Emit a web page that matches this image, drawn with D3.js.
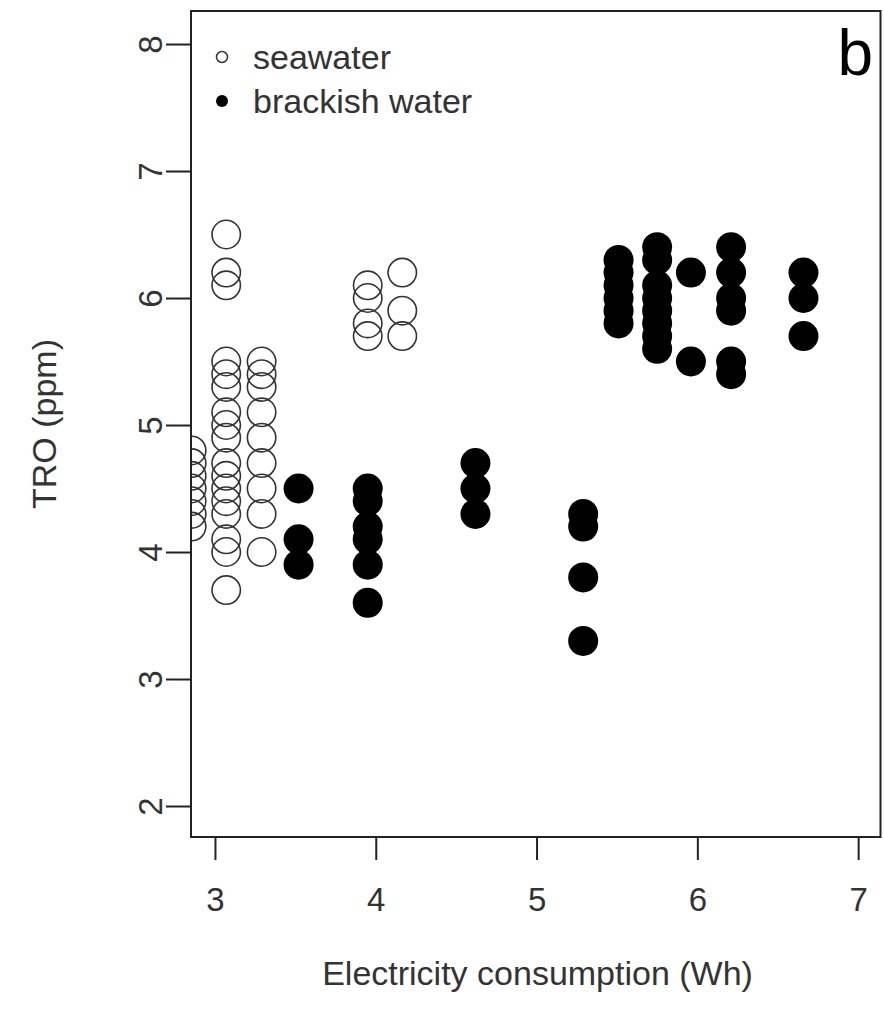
<!DOCTYPE html>
<html>
<head>
<meta charset="utf-8">
<script src="https://cdn.jsdelivr.net/npm/d3@7"></script>
<style>
  html, body { margin: 0; padding: 0; background: #fff; }
  svg { display: block; font-family: "Liberation Sans", Arial, sans-serif; }
</style>
</head>
<body>
<svg id="chart" width="884" height="1014"></svg>
<script>
// Electricity consumption (Wh) of each test column and the TRO (ppm) readings taken there
const seawaterElec = [2.855, 3.07, 3.29, 3.95, 4.165];
const seawaterTRO = [
  [4.8, 4.7, 4.6, 4.5, 4.4, 4.3, 4.2],
  [6.5, 6.2, 6.1, 5.5, 5.4, 5.3, 5.1, 5.0, 4.9, 4.7, 4.6, 4.5, 4.4, 4.3, 4.1, 4.0, 3.7],
  [5.5, 5.4, 5.3, 5.1, 4.9, 4.7, 4.5, 4.3, 4.0],
  [6.1, 6.0, 5.8, 5.7],
  [6.2, 5.9, 5.7]
];
const brackishElec = [3.52, 3.95, 4.62, 5.29, 5.51, 5.75, 5.96, 6.21, 6.66];
const brackishTRO = [
  [4.5, 4.1, 3.9],
  [4.5, 4.4, 4.2, 4.1, 3.9, 3.6],
  [4.7, 4.5, 4.3],
  [4.3, 4.2, 3.8, 3.3],
  [6.3, 6.2, 6.1, 6.0, 5.9, 5.8],
  [6.4, 6.3, 6.1, 6.0, 5.9, 5.8, 5.7, 5.6],
  [6.2, 5.5],
  [6.4, 6.2, 6.0, 5.9, 5.5, 5.4],
  [6.2, 6.0, 5.7]
];
const xTicks = [3, 4, 5, 6, 7];
const yTicks = [2, 3, 4, 5, 6, 7, 8];
const legendLabels = ["seawater", "brackish water"];
const panelLabel = "b";

const flatten = (xs, yss) => xs.flatMap((x, i) => yss[i].map(y => ({x, y})));
const seawater = flatten(seawaterElec, seawaterTRO);
const brackish = flatten(brackishElec, brackishTRO);

const svg = d3.select("#chart");
const ink = "#222";
const plot = {left: 191, right: 880.5, top: 11, bottom: 837};

// R-style 4% padding around xlim 3..7 and ylim 2..8
const x = d3.scaleLinear().domain([2.851, 7.139]).range([plot.left, plot.right]);
const y = d3.scaleLinear().domain([1.756, 8.26]).range([plot.bottom, plot.top]);

svg.append("defs").append("clipPath").attr("id", "plot-clip")
  .append("rect")
  .attr("x", plot.left).attr("y", plot.top)
  .attr("width", plot.right - plot.left).attr("height", plot.bottom - plot.top);

const r = 15;
const pts = svg.append("g").attr("clip-path", "url(#plot-clip)");

pts.selectAll("circle.sea").data(seawater).join("circle")
  .attr("class", "sea")
  .attr("cx", d => x(d.x)).attr("cy", d => y(d.y)).attr("r", r - 0.8)
  .attr("fill", "none").attr("stroke", "#333").attr("stroke-width", 1.6);

pts.selectAll("circle.brack").data(brackish).join("circle")
  .attr("class", "brack")
  .attr("cx", d => x(d.x)).attr("cy", d => y(d.y)).attr("r", r)
  .attr("fill", "#000");

// Frame
svg.append("rect")
  .attr("x", plot.left).attr("y", plot.top)
  .attr("width", plot.right - plot.left).attr("height", plot.bottom - plot.top)
  .attr("fill", "none").attr("stroke", ink).attr("stroke-width", 2);

// X axis
const xAxis = d3.axisBottom(x).tickValues(xTicks).tickSize(23).tickPadding(28)
  .tickFormat(d3.format("d"));
const gx = svg.append("g").attr("transform", `translate(0,${plot.bottom})`).call(xAxis);
gx.select(".domain").remove();
gx.selectAll(".tick line").attr("stroke", ink).attr("stroke-width", 2);
gx.selectAll(".tick text").attr("fill", "#333").attr("font-size", 33)
  .attr("font-family", "Liberation Sans, Arial, sans-serif");

// Y axis with R-style rotated tick labels
const yAxis = d3.axisLeft(y).tickValues(yTicks).tickSize(25).tickFormat(d3.format("d"));
const gy = svg.append("g").attr("transform", `translate(${plot.left},0)`).call(yAxis);
gy.select(".domain").remove();
gy.selectAll(".tick line").attr("stroke", ink).attr("stroke-width", 2);
gy.selectAll(".tick text")
  .attr("x", null).attr("dy", null)
  .attr("transform", "translate(-29,0) rotate(-90)")
  .attr("text-anchor", "middle")
  .attr("fill", "#333").attr("font-size", 33)
  .attr("font-family", "Liberation Sans, Arial, sans-serif");

// Axis titles
svg.append("text")
  .attr("x", (x(3) + x(7)) / 2 + 1).attr("y", 985)
  .attr("text-anchor", "middle").attr("font-size", 34).attr("fill", "#333")
  .text("Electricity consumption (Wh)");

svg.append("text")
  .attr("transform", `translate(56,${(plot.top + plot.bottom) / 2}) rotate(-90)`)
  .attr("text-anchor", "middle").attr("font-size", 34).attr("fill", "#333")
  .text("TRO (ppm)");

// Legend
const legend = svg.append("g");
legendLabels.forEach((label, i) => {
  const cy = 57 + i * 44;
  legend.append("circle")
    .attr("cx", 222).attr("cy", cy).attr("r", i === 0 ? 5.5 : 6)
    .attr("fill", i === 0 ? "none" : "#000")
    .attr("stroke", i === 0 ? "#333" : "none").attr("stroke-width", 1.5);
  legend.append("text")
    .attr("x", 253).attr("y", cy + 12)
    .attr("font-size", 34).attr("fill", "#333")
    .text(label);
});

// Panel label
svg.append("text")
  .attr("x", 873).attr("y", 75)
  .attr("text-anchor", "end").attr("font-size", 64).attr("fill", "#000")
  .text(panelLabel);
</script>
</body>
</html>
